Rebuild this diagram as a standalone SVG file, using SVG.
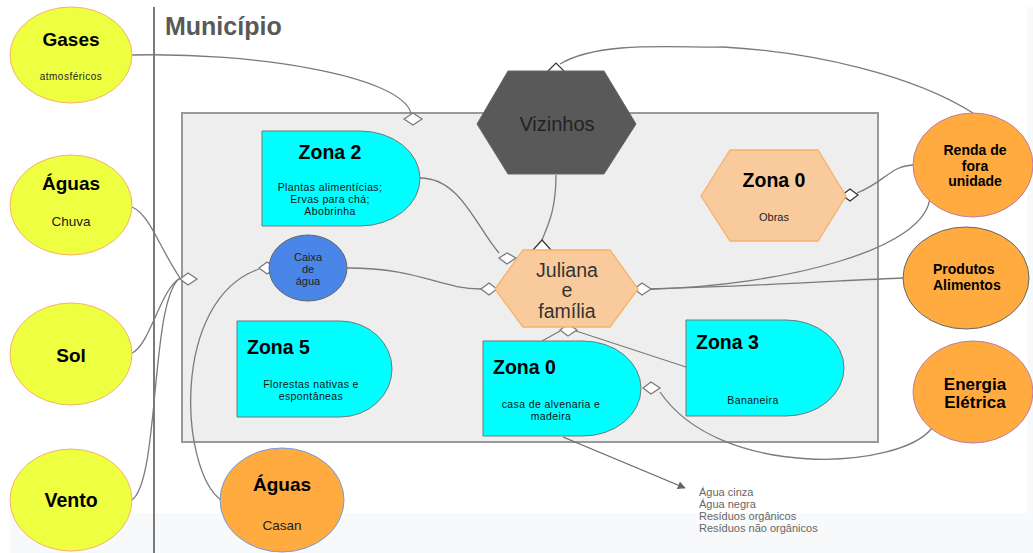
<svg xmlns="http://www.w3.org/2000/svg" width="1033" height="553" viewBox="0 0 1033 553">
<defs>
<style>
.c{fill:none;stroke:#7a7a7a;stroke-width:1.3}
.ds{fill:#fff;stroke:#7a7a7a;stroke-width:1.3}
.db{fill:#fff;stroke:#333;stroke-width:1.2}
.yel{fill:#eeff41;stroke:#f6b26b;stroke-width:1}
.org{fill:#ffab40}
.cy{fill:#00ffff;stroke:#777;stroke-width:1}
.hex{fill:#f9cb9c;stroke:#f6b26b;stroke-width:1.3}
text{font-family:"Liberation Sans",Arial,sans-serif}
.b{font-weight:bold;fill:#000}
.z{font-size:19.5px}
.s{font-size:10.5px;fill:#111;letter-spacing:0.4px}
.m{text-anchor:middle}
</style>
<marker id="ah" viewBox="0 0 10 10" refX="9" refY="5" markerWidth="8" markerHeight="8" orient="auto" markerUnits="userSpaceOnUse">
<path d="M0 0 L10 5 L0 10 Z" fill="#666"/>
</marker>
</defs>
<rect width="1033" height="553" fill="#fff"/>
<rect x="10" y="513" width="1023" height="40" fill="#f8f9fa"/>
<rect x="1027" y="7" width="6" height="546" fill="#f8f9fa"/>
<line x1="154" y1="7" x2="154" y2="553" stroke="#333" stroke-width="1.3"/>
<text x="165" y="35" font-size="25" font-weight="bold" fill="#595959">Município</text>
<rect id="municipio" x="182" y="113" width="696" height="329" fill="#eeeeee" stroke="#999" stroke-width="2"/>

<g id="connectors">
<path class="c" d="M132 55 C250 52 400 75 411 113"/>
<path class="c" d="M560 64 C600 40 680 48 723 47 C813 52 913 75 973 113"/>
<path class="c" d="M132 207 C150 215 158 245 180 278"/>
<path class="c" d="M132 353 C150 345 160 290 180 278"/>
<path class="c" d="M132 500 C160 480 150 300 180 278"/>
<path class="c" d="M221 500 C180 470 170 300 259 269"/>
<path class="c" d="M556 175 C556 210 548 225 542 240"/>
<path class="c" d="M420 178 C460 178 475 225 499 253"/>
<path class="c" d="M347 268 C420 268 440 289 481 289"/>
<path class="c" d="M650 289 C760 286 850 280 903 278"/>
<path class="c" d="M650 289 C780 286 930 250 930 195"/>
<path class="c" d="M857 193 C885 182 890 166 913 165"/>
<path class="c" d="M560 331 L542 341"/>
<path class="c" d="M576 331 L686 367"/>
<path class="c" d="M932 428 C900 470 720 480 660 392"/>
<path d="M563 437 L685 488" fill="none" stroke="#666" stroke-width="1.3" marker-end="url(#ah)"/>
<path class="ds" d="M404 119 L413 113 L422 119 L413 125 Z"/>
<path class="db" d="M547 72 L556 63 L565 72 L556 82 Z"/>
<path class="ds" d="M180 279 L188 273 L197 279 L188 285 Z"/>
<path class="ds" d="M259 268 L267 262 L275 268 L267 274 Z"/>
<path class="db" d="M533 250 L542 240 L551 250 L542 260 Z"/>
<path class="ds" d="M499 258 L507 253 L516 258 L507 264 Z"/>
<path class="ds" d="M481 289 L489 283 L497 289 L489 295 Z"/>
<path class="ds" d="M634 289 L642 283 L651 289 L642 295 Z"/>
<path class="ds" d="M560 330 L568 324 L577 330 L568 336 Z"/>
<path class="db" d="M842 195 L850 189 L858 195 L850 201 Z"/>
<path class="ds" d="M643 388 L651 382 L660 388 L651 394 Z"/>
</g>

<g id="gases">
<ellipse class="yel" cx="71" cy="55" rx="61" ry="48"/>
<text class="b m" x="71" y="46" font-size="19">Gases</text>
<text class="m" x="71" y="80" font-size="10" fill="#222" letter-spacing="0.5">atmosféricos</text>
</g>
<g id="aguas-chuva">
<ellipse class="yel" cx="71" cy="205" rx="61" ry="50"/>
<text class="b m" x="71" y="190" font-size="19">Águas</text>
<text class="m" x="71" y="226" font-size="13.5" fill="#222">Chuva</text>
</g>
<g id="sol">
<ellipse class="yel" cx="71" cy="354" rx="61" ry="51"/>
<text class="b m" x="71" y="362" font-size="19">Sol</text>
</g>
<g id="vento">
<ellipse class="yel" cx="71" cy="500" rx="61" ry="51"/>
<text class="b m" x="71" y="507" font-size="19.5">Vento</text>
</g>

<g id="vizinhos">
<polygon points="477,124 508,71 604,71 636,124 604,174 508,174" fill="#595959" stroke="#666" stroke-width="1"/>
<text class="m" x="557" y="131" font-size="20" fill="#222">Vizinhos</text>
</g>

<g id="zona2">
<path class="cy" d="M262 131 H360 A60 47.5 0 0 1 360 226 H262 Z"/>
<text class="b m z" x="330" y="159">Zona 2</text>
<text class="s m" x="330" y="191">Plantas alimentícias;</text>
<text class="s m" x="330" y="203">Ervas para chá;</text>
<text class="s m" x="330" y="215">Abobrinha</text>
</g>

<g id="caixa">
<ellipse cx="308" cy="268" rx="39" ry="33" fill="#4a86e8" stroke="#666" stroke-width="1"/>
<text class="m" x="308" y="261" font-size="11" fill="#222">Caixa</text>
<text class="m" x="308" y="273" font-size="11" fill="#222">de</text>
<text class="m" x="308" y="285" font-size="11" fill="#222">água</text>
</g>

<g id="zona5">
<path class="cy" d="M237 321 H340 A52 48 0 0 1 340 417 H237 Z"/>
<text class="b z" x="247" y="354">Zona 5</text>
<text class="s m" x="311" y="388">Florestas nativas e</text>
<text class="s m" x="311" y="400">espontâneas</text>
</g>

<g id="juliana">
<polygon class="hex" points="495,289 523,250 610,250 638,289 610,327 523,327"/>
<text class="m" x="567" y="277" font-size="19.5" fill="#333">Juliana</text>
<text class="m" x="567" y="297" font-size="19.5" fill="#333">e</text>
<text class="m" x="567" y="318" font-size="19.5" fill="#333">família</text>
</g>

<g id="zona0-obras">
<polygon class="hex" points="701,196 730,150 818,150 846,196 818,241 730,241"/>
<text class="b m z" x="774" y="187">Zona 0</text>
<text class="m" x="774" y="221" font-size="11" fill="#222">Obras</text>
</g>

<g id="zona0-casa">
<path class="cy" d="M483 341 H583 A58 47.5 0 0 1 583 436 H483 Z"/>
<text class="b z" x="493" y="374">Zona 0</text>
<text class="s m" x="551" y="408">casa de alvenaria e</text>
<text class="s m" x="551" y="420">madeira</text>
</g>

<g id="zona3">
<path class="cy" d="M686 320 H786 A58 48 0 0 1 786 416 H686 Z"/>
<text class="b z" x="696" y="349">Zona 3</text>
<text class="s m" x="753" y="404">Bananeira</text>
</g>

<g id="renda">
<ellipse class="org" cx="973" cy="165" rx="60" ry="52" stroke="#c27ba0" stroke-width="1"/>
<text class="b m" x="975" y="155" font-size="14">Renda de</text>
<text class="b m" x="975" y="171" font-size="14">fora</text>
<text class="b m" x="975" y="186" font-size="14">unidade</text>
</g>

<g id="produtos">
<ellipse class="org" cx="966" cy="278" rx="63" ry="51" stroke="#666" stroke-width="1"/>
<text class="b" x="933" y="274" font-size="14">Produtos</text>
<text class="b" x="933" y="290" font-size="14">Alimentos</text>
</g>

<g id="energia">
<ellipse class="org" cx="973" cy="392" rx="60" ry="51" stroke="#c27ba0" stroke-width="1"/>
<text class="b m" x="975" y="390" font-size="17">Energia</text>
<text class="b m" x="975" y="408" font-size="17">Elétrica</text>
</g>

<g id="aguas-casan">
<ellipse class="org" cx="282" cy="500" rx="62" ry="52" stroke="#6d9eeb" stroke-width="1"/>
<text class="b m" x="282" y="491" font-size="19">Águas</text>
<text class="m" x="282" y="530" font-size="13.5" fill="#222">Casan</text>
</g>

<g id="residuos" font-size="11" fill="#666">
<text x="699" y="496">Água cinza</text>
<text x="699" y="508">Água negra</text>
<text x="699" y="520">Resíduos orgânicos</text>
<text x="699" y="532">Resíduos não orgânicos</text>
</g>
</svg>
